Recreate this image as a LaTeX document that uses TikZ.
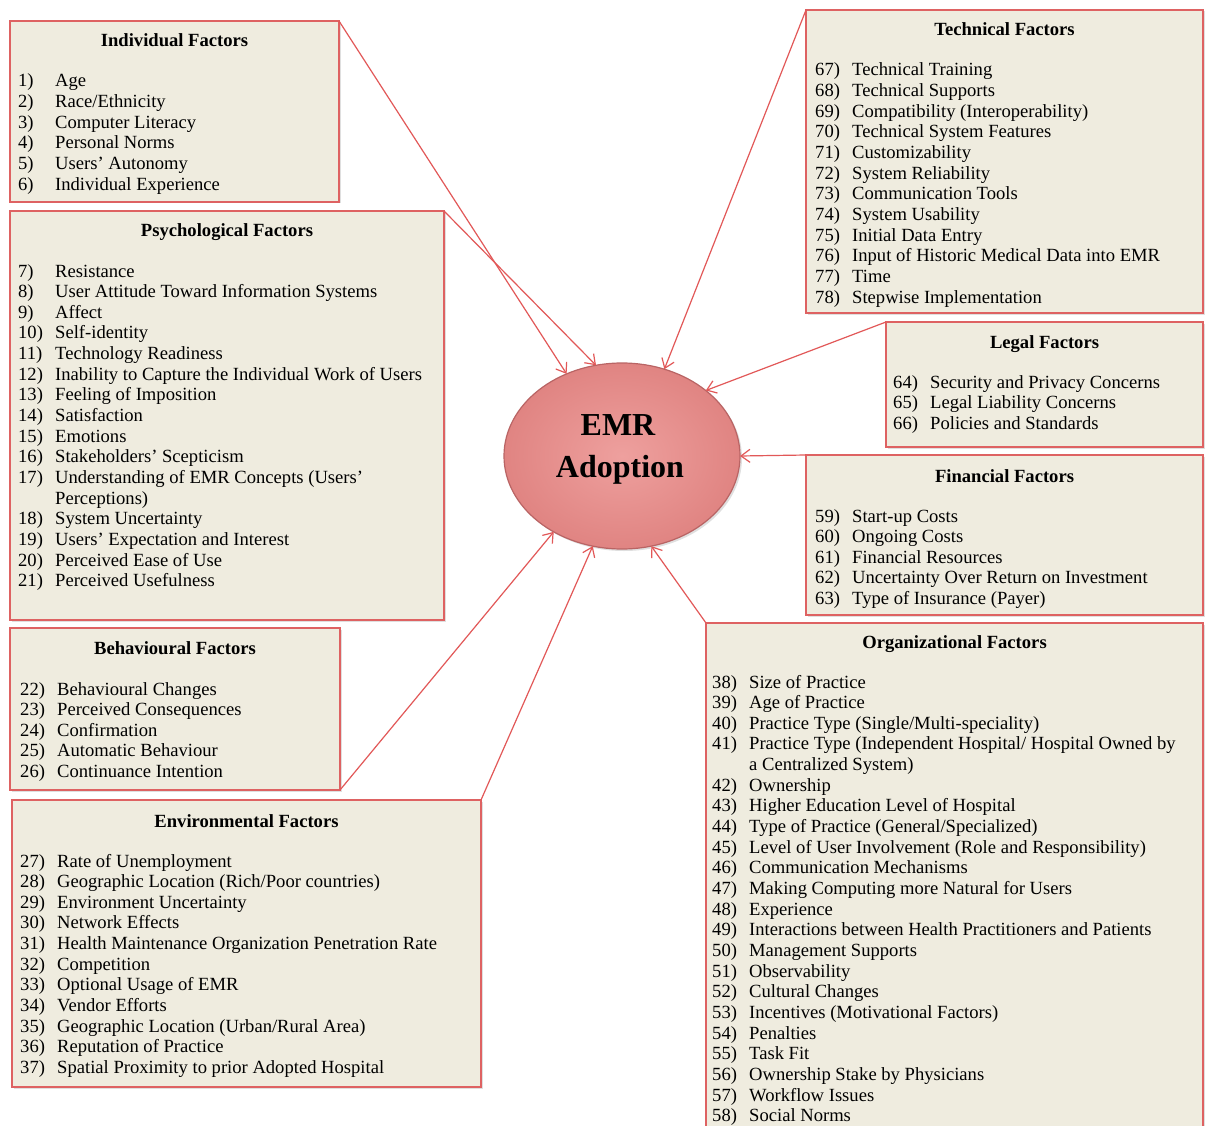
\documentclass[tikz,border=0pt]{standalone}
\usepackage{fontspec}
\setmainfont{Liberation Serif}
\usetikzlibrary{shapes.geometric,arrows.meta,shadows}
\definecolor{boxfill}{RGB}{239,236,223}
\definecolor{boxline}{RGB}{222,98,98}
\definecolor{connline}{RGB}{226,88,88}
\definecolor{emrin}{RGB}{238,160,158}
\definecolor{emrout}{RGB}{224,132,130}
\definecolor{emrline}{RGB}{185,100,100}
\newcommand{\fitem}[2]{\makebox[37pt][l]{#1}#2\\}
\begin{document}
\begin{tikzpicture}[x=1pt,y=-1pt,
  factorbox/.style={draw=boxline, line width=1.6pt, fill=boxfill, anchor=north west,
    inner sep=0pt, outer sep=0pt,
    drop shadow={shadow xshift=1.5pt, shadow yshift=-1.5pt, opacity=0.25}},
  boxtitle/.style={anchor=base, inner sep=0pt, font=\fontsize{18.6}{20.65}\selectfont\bfseries},
  itemlist/.style={anchor=base west, inner sep=0pt, font=\fontsize{18.6}{20.65}\selectfont},
  emrtext/.style={anchor=base, inner sep=0pt, font=\fontsize{32}{43}\selectfont\bfseries},
  conn/.style={draw=connline, line width=1.2pt, -{Straight Barb[length=9pt,width=13pt,line width=1.2pt]}}
]
\useasboundingbox (0,0) rectangle (1208,1126);
\clip (0,0) rectangle (1208,1126);
\fill[white] (0,0) rectangle (1208,1126);

% ---------- boxes ----------
\node[factorbox, minimum width=329pt, minimum height=181pt] (ind) at (10,21) {};
\node[factorbox, minimum width=434pt, minimum height=409pt] (psy) at (10,211) {};
\node[factorbox, minimum width=330pt, minimum height=162pt] (beh) at (10,628) {};
\node[factorbox, minimum width=469pt, minimum height=287pt] (env) at (12,800) {};
\node[factorbox, minimum width=397pt, minimum height=303pt] (tech) at (806,10) {};
\node[factorbox, minimum width=317pt, minimum height=125pt] (legal) at (886,322) {};
\node[factorbox, minimum width=397pt, minimum height=160pt] (fin) at (806,455) {};
\node[factorbox, minimum width=497pt, minimum height=520pt] (org) at (706,623) {};

% ---------- titles ----------
\node[boxtitle] (indT) at (174.5,47) {Individual Factors};
\node[boxtitle] (psyT) at (227,237) {Psychological Factors};
\node[boxtitle] (behT) at (175,654) {Behavioural Factors};
\node[boxtitle] (envT) at (246.5,827) {Environmental Factors};
\node[boxtitle] (techT) at (1004.5,36) {Technical Factors};
\node[boxtitle] (legalT) at (1044.5,348) {Legal Factors};
\node[boxtitle] (finT) at (1004.5,482) {Financial Factors};
\node[boxtitle] (orgT) at (954.5,648) {Organizational Factors};

% ---------- lists ----------
\node[itemlist] (indL) at (18,87) {\begin{tabular}[t]{@{}l@{}}
\fitem{1)}{Age}
\fitem{2)}{Race/Ethnicity}
\fitem{3)}{Computer Literacy}
\fitem{4)}{Personal Norms}
\fitem{5)}{Users' Autonomy}
\fitem{6)}{Individual Experience}
\end{tabular}};

\node[itemlist] (psyL) at (18,277) {\begin{tabular}[t]{@{}l@{}}
\fitem{7)}{Resistance}
\fitem{8)}{User Attitude Toward Information Systems}
\fitem{9)}{Affect}
\fitem{10)}{Self-identity}
\fitem{11)}{Technology Readiness}
\fitem{12)}{Inability to Capture the Individual Work of Users}
\fitem{13)}{Feeling of Imposition}
\fitem{14)}{Satisfaction}
\fitem{15)}{Emotions}
\fitem{16)}{Stakeholders' Scepticism}
\fitem{17)}{Understanding of EMR Concepts (Users'}
\fitem{}{Perceptions)}
\fitem{18)}{System Uncertainty}
\fitem{19)}{Users' Expectation and Interest}
\fitem{20)}{Perceived Ease of Use}
\fitem{21)}{Perceived Usefulness}
\end{tabular}};

\node[itemlist] (behL) at (20,695) {\begin{tabular}[t]{@{}l@{}}
\fitem{22)}{Behavioural Changes}
\fitem{23)}{Perceived Consequences}
\fitem{24)}{Confirmation}
\fitem{25)}{Automatic Behaviour}
\fitem{26)}{Continuance Intention}
\end{tabular}};

\node[itemlist] (envL) at (20,867) {\begin{tabular}[t]{@{}l@{}}
\fitem{27)}{Rate of Unemployment}
\fitem{28)}{Geographic Location (Rich/Poor countries)}
\fitem{29)}{Environment Uncertainty}
\fitem{30)}{Network Effects}
\fitem{31)}{Health Maintenance Organization Penetration Rate}
\fitem{32)}{Competition}
\fitem{33)}{Optional Usage of EMR}
\fitem{34)}{Vendor Efforts}
\fitem{35)}{Geographic Location (Urban/Rural Area)}
\fitem{36)}{Reputation of Practice}
\fitem{37)}{Spatial Proximity to prior Adopted Hospital}
\end{tabular}};

\node[itemlist] (techL) at (815,76) {\begin{tabular}[t]{@{}l@{}}
\fitem{67)}{Technical Training}
\fitem{68)}{Technical Supports}
\fitem{69)}{Compatibility (Interoperability)}
\fitem{70)}{Technical System Features}
\fitem{71)}{Customizability}
\fitem{72)}{System Reliability}
\fitem{73)}{Communication Tools}
\fitem{74)}{System Usability}
\fitem{75)}{Initial Data Entry}
\fitem{76)}{Input of Historic Medical Data into EMR}
\fitem{77)}{Time}
\fitem{78)}{Stepwise Implementation}
\end{tabular}};

\node[itemlist] (legalL) at (893,388) {\begin{tabular}[t]{@{}l@{}}
\fitem{64)}{Security and Privacy Concerns}
\fitem{65)}{Legal Liability Concerns}
\fitem{66)}{Policies and Standards}
\end{tabular}};

\node[itemlist] (finL) at (815,522) {\begin{tabular}[t]{@{}l@{}}
\fitem{59)}{Start-up Costs}
\fitem{60)}{Ongoing Costs}
\fitem{61)}{Financial Resources}
\fitem{62)}{Uncertainty Over Return on Investment}
\fitem{63)}{Type of Insurance (Payer)}
\end{tabular}};

\node[itemlist] (orgL) at (712,688) {\begin{tabular}[t]{@{}l@{}}
\fitem{38)}{Size of Practice}
\fitem{39)}{Age of Practice}
\fitem{40)}{Practice Type (Single/Multi-speciality)}
\fitem{41)}{Practice Type (Independent Hospital/ Hospital Owned by}
\fitem{}{a Centralized System)}
\fitem{42)}{Ownership}
\fitem{43)}{Higher Education Level of Hospital}
\fitem{44)}{Type of Practice (General/Specialized)}
\fitem{45)}{Level of User Involvement (Role and Responsibility)}
\fitem{46)}{Communication Mechanisms}
\fitem{47)}{Making Computing more Natural for Users}
\fitem{48)}{Experience}
\fitem{49)}{Interactions between Health Practitioners and Patients}
\fitem{50)}{Management Supports}
\fitem{51)}{Observability}
\fitem{52)}{Cultural Changes}
\fitem{53)}{Incentives (Motivational Factors)}
\fitem{54)}{Penalties}
\fitem{55)}{Task Fit}
\fitem{56)}{Ownership Stake by Physicians}
\fitem{57)}{Workflow Issues}
\fitem{58)}{Social Norms}
\end{tabular}};

% ---------- central ellipse ----------
\node[ellipse, draw=emrline, line width=1.2pt, inner color=emrin, outer color=emrout,
  minimum width=236pt, minimum height=186pt, inner sep=0pt, outer sep=0pt,
  drop shadow={shadow xshift=2pt, shadow yshift=-2pt, opacity=0.25}] (emr) at (622,456) {};
\node[emrtext] (emrA) at (618,435) {EMR};
\node[emrtext] (emrB) at (620,477) {Adoption};

% ---------- connectors ----------
\draw[conn] (ind.north east) -- (emr.124);
\draw[conn] (psy.north east) -- (emr.106);
\draw[conn] (tech.north west) -- (emr.64);
\draw[conn] (legal.north west) -- (emr.38);
\draw[conn] (fin.north west) -- (emr.0);
\draw[conn] (org.north west) -- (emr.-72);
\draw[conn] (env.north east) -- (emr.-108);
\draw[conn] (beh.south east) -- (emr.-132);
\end{tikzpicture}
\end{document}
